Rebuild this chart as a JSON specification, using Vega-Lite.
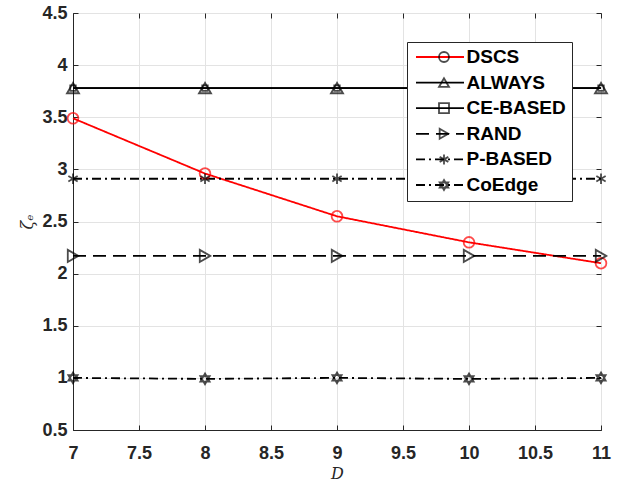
{
  "$schema": "https://vega.github.io/schema/vega-lite/v6.json",
  "autosize": "none",
  "width": 528,
  "height": 417,
  "padding": {"left": 73, "top": 13, "right": 20, "bottom": 51},
  "background": "white",
  "config": {
    "view": {"stroke": "#262626", "strokeWidth": 1},
    "font": "Liberation Sans",
    "axis": {
      "labelFont": "Liberation Sans",
      "labelFontWeight": "bold",
      "labelFontSize": 18,
      "labelColor": "#262626",
      "tickColor": "#262626",
      "domainColor": "#262626",
      "gridColor": "#e3e3e3",
      "gridWidth": 1,
      "tickSize": -5,
      "titleFont": "DejaVu Serif",
      "titleFontStyle": "italic",
      "titleFontWeight": "normal",
      "titleColor": "#262626"
    }
  },
  "data": {
    "values": [
      {"D": 7, "v": 3.78, "s": "CE-BASED"},
      {"D": 8, "v": 3.78, "s": "CE-BASED"},
      {"D": 9, "v": 3.78, "s": "CE-BASED"},
      {"D": 10, "v": 3.78, "s": "CE-BASED"},
      {"D": 11, "v": 3.78, "s": "CE-BASED"},
      {"D": 7, "v": 3.49, "s": "DSCS"},
      {"D": 8, "v": 2.96, "s": "DSCS"},
      {"D": 9, "v": 2.55, "s": "DSCS"},
      {"D": 10, "v": 2.3, "s": "DSCS"},
      {"D": 11, "v": 2.1, "s": "DSCS"},
      {"D": 7, "v": 3.78, "s": "ALWAYS"},
      {"D": 8, "v": 3.78, "s": "ALWAYS"},
      {"D": 9, "v": 3.78, "s": "ALWAYS"},
      {"D": 10, "v": 3.78, "s": "ALWAYS"},
      {"D": 11, "v": 3.78, "s": "ALWAYS"},
      {"D": 7, "v": 2.17, "s": "RAND"},
      {"D": 8, "v": 2.17, "s": "RAND"},
      {"D": 9, "v": 2.17, "s": "RAND"},
      {"D": 10, "v": 2.17, "s": "RAND"},
      {"D": 11, "v": 2.17, "s": "RAND"},
      {"D": 7, "v": 2.91, "s": "P-BASED"},
      {"D": 8, "v": 2.91, "s": "P-BASED"},
      {"D": 9, "v": 2.91, "s": "P-BASED"},
      {"D": 10, "v": 2.91, "s": "P-BASED"},
      {"D": 11, "v": 2.91, "s": "P-BASED"},
      {"D": 7, "v": 1.0, "s": "CoEdge"},
      {"D": 8, "v": 0.99, "s": "CoEdge"},
      {"D": 9, "v": 1.0, "s": "CoEdge"},
      {"D": 10, "v": 0.99, "s": "CoEdge"},
      {"D": 11, "v": 1.0, "s": "CoEdge"}
    ]
  },
  "resolve": {"axis": {"x": "independent", "y": "independent"}},
  "layer": [
    {
      "mark": {"type": "line", "strokeWidth": 1.8},
      "encoding": {
        "x": {
          "field": "D", "type": "quantitative",
          "scale": {"domain": [7, 11], "nice": false, "zero": false},
          "axis": {"title": "D", "titleFontSize": 16, "format": "~g", "values": [7, 7.5, 8, 8.5, 9, 9.5, 10, 10.5, 11], "labelPadding": 19, "titlePadding": 3, "labelFlush": false}
        },
        "y": {
          "field": "v", "type": "quantitative",
          "scale": {"domain": [0.5, 4.5], "nice": false, "zero": false},
          "axis": {"title": "ζₑ", "titleFontSize": 16, "format": "~g", "values": [0.5, 1, 1.5, 2, 2.5, 3, 3.5, 4, 4.5], "labelPadding": 11, "titlePadding": 6, "labelFlush": false}
        },
        "color": {
          "field": "s", "type": "nominal",
          "scale": {"domain": ["DSCS", "ALWAYS", "CE-BASED", "RAND", "P-BASED", "CoEdge"], "range": ["#ff0000", "#000000", "#000000", "#000000", "#000000", "#000000"]},
          "legend": {
            "title": null, "orient": "none", "legendX": 334, "legendY": 29,
            "symbolType": "M-4.8,0H4.8", "symbolSize": 100, "symbolStrokeWidth": 1.8, "symbolOffset": 18,
            "labelFont": "Liberation Sans", "labelFontWeight": "bold", "labelFontSize": 19, "labelColor": "#000000",
            "labelOffset": 17, "rowPadding": 5.6, "padding": 5.5,
            "fillColor": "white", "strokeColor": "#262626", "labelLimit": 200
          }
        },
        "strokeDash": {
          "field": "s", "type": "nominal",
          "scale": {"domain": ["DSCS", "ALWAYS", "CE-BASED", "RAND", "P-BASED", "CoEdge"], "range": [[1, 0], [1, 0], [1, 0], [13, 7], [9, 4, 2, 4], [9, 4, 2, 4]]},
          "legend": {
            "title": null, "orient": "none", "legendX": 334, "legendY": 29,
            "symbolType": "M-4.8,0H4.8", "symbolSize": 100, "symbolStrokeWidth": 1.8, "symbolOffset": 18,
            "labelFont": "Liberation Sans", "labelFontWeight": "bold", "labelFontSize": 19, "labelColor": "#000000",
            "labelOffset": 17, "rowPadding": 5.6, "padding": 5.5,
            "fillColor": "white", "strokeColor": "#262626", "labelLimit": 200
          }
        }
      }
    },
    {
      "mark": {"type": "point", "filled": false, "strokeWidth": 1.8},
      "encoding": {
        "x": {"field": "D", "type": "quantitative", "axis": null},
        "y": {"field": "v", "type": "quantitative", "axis": null},
        "color": {"condition": {"test": "datum.s === 'DSCS'", "value": "#ff0000"}, "value": "#000000"},
        "size": {"condition": [
          {"test": "datum.s === 'CE-BASED'", "value": 30},
          {"test": "datum.s === 'ALWAYS' || datum.s === 'RAND'", "value": 145}
        ], "value": 115},
        "shape": {
          "field": "s", "type": "nominal",
          "scale": {
            "domain": ["DSCS", "ALWAYS", "CE-BASED", "RAND", "P-BASED", "CoEdge", "_"],
            "range": ["circle", "triangle-up", "square", "triangle-right", "M0,-1L0,1M-0.87,-0.5L0.87,0.5M-0.87,0.5L0.87,-0.5", "M0,-1L0.866,0.5L-0.866,0.5ZM0,1L-0.866,-0.5L0.866,-0.5Z", "circle"]
          },
          "legend": {
            "title": null, "orient": "none", "legendX": 334, "legendY": 29,
            "values": ["DSCS", "ALWAYS", "CE-BASED", "RAND", "P-BASED", "CoEdge"],
            "labelExpr": "''",
            "symbolSize": 100, "symbolStrokeWidth": 1.8, "symbolOffset": 22,
            "labelFont": "Liberation Sans", "labelFontWeight": "bold", "labelFontSize": 19, "labelOpacity": 0,
            "labelOffset": 17, "rowPadding": 5.6, "padding": 5.5, "labelLimit": 200,
            "encode": {
              "symbols": {
                "update": {
                  "stroke": {"signal": "datum.value === 'DSCS' ? '#ff0000' : '#000000'"},
                  "fill": {"value": "transparent"},
                  "size": {"signal": "datum.value === 'CE-BASED' ? 50 : (datum.value === 'ALWAYS' || datum.value === 'RAND') ? 145 : 115"}
                }
              }
            }
          }
        }
      }
    },
    {
      "mark": {"type": "point", "opacity": 0},
      "encoding": {
        "x": {"field": "D", "type": "quantitative", "axis": {"orient": "top", "labels": false, "grid": false, "domain": false, "title": null, "values": [7, 7.5, 8, 8.5, 9, 9.5, 10, 10.5, 11]}},
        "y": {"field": "v", "type": "quantitative", "axis": {"orient": "right", "labels": false, "grid": false, "domain": false, "title": null, "values": [0.5, 1, 1.5, 2, 2.5, 3, 3.5, 4, 4.5]}}
      }
    }
  ]
}
